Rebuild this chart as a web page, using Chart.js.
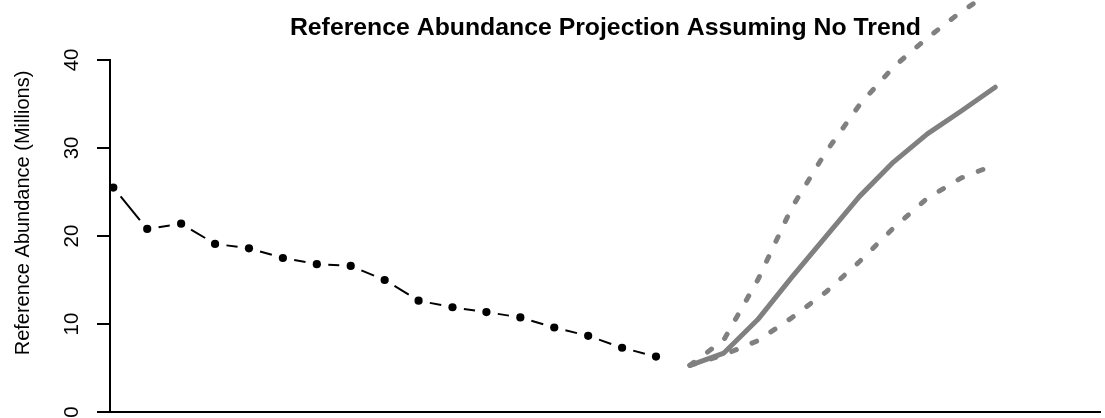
<!DOCTYPE html>
<html>
<head>
<meta charset="utf-8">
<script src="https://cdn.jsdelivr.net/npm/chart.js@4/dist/chart.umd.min.js"></script>
<style>
  html, body { margin: 0; padding: 0; background: #fff; }
  #wrap { width: 1105px; height: 418px; }
</style>
</head>
<body>
<div id="wrap"><canvas id="chart" width="1105" height="418"></canvas></div>
<script>
// Observed reference abundance (millions) by time step
const histSteps = [1, 2, 3, 4, 5, 6, 7, 8, 9, 10, 11, 12, 13, 14, 15, 16, 17];
const histAbundance = [25.5, 20.8, 21.4, 19.1, 18.6, 17.5, 16.8, 16.6, 15.0, 12.65, 11.9, 11.35, 10.75, 9.6, 8.65, 7.3, 6.3];

// Projected abundance assuming no trend: median and interval bounds
const projSteps = [18, 19, 20, 21, 22, 23, 24, 25, 26, 27];
const projMedian = [5.3, 6.7, 10.5, 15.3, 19.9, 24.5, 28.4, 31.6, 34.2, 36.9];
const projUpper  = [5.3, 8.2, 15.0, 23.2, 29.5, 34.9, 39.2, 42.5, 45.5, 48.0];
const projLower  = [5.3, 6.5, 8.1, 10.7, 13.6, 17.1, 20.9, 24.3, 26.6, 28.1];

// Y axis tick values
const yTicks = [0, 10, 20, 30, 40];

const FONT = '"Liberation Sans", Arial, Helvetica, sans-serif';
const GREY = '#808080';

const toPoints = (xs, ys) => xs.map((x, i) => ({ x: x, y: ys[i] }));

// Each connecting segment leaves a gap around both markers
const MARKER_GAP = 11.5;
const segLen = c => Math.hypot(c.p1.x - c.p0.x, c.p1.y - c.p0.y);

// Rotated y-axis caption, centred on the plot region
const yCaption = {
  id: 'yCaption',
  afterDraw(chart) {
    const ctx = chart.ctx;
    ctx.save();
    ctx.translate(23, 213);
    ctx.rotate(-Math.PI / 2);
    ctx.font = '20px ' + FONT;
    ctx.fillStyle = '#000';
    ctx.textAlign = 'center';
    ctx.textBaseline = 'middle';
    ctx.fillText('Reference Abundance (Millions)', 0, 0);
    ctx.restore();
  }
};

new Chart(document.getElementById('chart'), {
  type: 'line',
  data: {
    datasets: [
      {
        label: 'Observed',
        data: toPoints(histSteps, histAbundance),
        borderColor: '#000',
        backgroundColor: '#000',
        borderWidth: 2,
        pointRadius: 4.1,
        pointBorderWidth: 0,
        pointBackgroundColor: '#000',
        tension: 0,
        clip: false,
        segment: {
          borderDash: c => {
            const L = segLen(c);
            return [Math.max(L - 2 * MARKER_GAP, 0.01), 2 * MARKER_GAP];
          },
          borderDashOffset: c => segLen(c) - MARKER_GAP
        },
        order: 0
      },
      {
        label: 'Upper',
        data: toPoints(projSteps, projUpper),
        borderColor: GREY,
        borderWidth: 5,
        borderDash: [5, 17],
        borderCapStyle: 'round',
        borderJoinStyle: 'round',
        pointRadius: 0,
        tension: 0,
        clip: false,
        order: 2
      },
      {
        label: 'Lower',
        data: toPoints(projSteps, projLower),
        borderColor: GREY,
        borderWidth: 5,
        borderDash: [5, 17],
        borderCapStyle: 'round',
        borderJoinStyle: 'round',
        pointRadius: 0,
        tension: 0,
        clip: false,
        order: 2
      },
      {
        label: 'Median',
        data: toPoints(projSteps, projMedian),
        borderColor: GREY,
        borderWidth: 5,
        borderCapStyle: 'round',
        borderJoinStyle: 'round',
        pointRadius: 0,
        tension: 0,
        clip: false,
        order: 1
      }
    ]
  },
  options: {
    responsive: false,
    animation: false,
    events: [],
    layout: { padding: 0 },
    plugins: {
      legend: { display: false },
      tooltip: { enabled: false },
      title: {
        display: true,
        fullSize: false,
        text: 'Reference Abundance Projection Assuming No Trend',
        color: '#000',
        font: { family: FONT, size: 24.8, weight: 'bold', lineHeight: 1.2 },
        padding: { top: 13.2, bottom: 17.0 }
      }
    },
    scales: {
      x: {
        type: 'linear',
        min: 0.903,
        max: 30.116,
        ticks: { display: false },
        grid: { display: false, drawTicks: false },
        border: { display: true, color: '#000', width: 2 },
        afterFit(scale) {
          scale.height = 6;
          scale.paddingLeft = 0;
          scale.paddingRight = 0;
        }
      },
      y: {
        type: 'linear',
        min: 0,
        max: 40,
        afterBuildTicks(scale) {
          scale.ticks = yTicks.map(v => ({ value: v }));
        },
        ticks: {
          color: '#000',
          font: { family: FONT, size: 20.5 },
          minRotation: 90,
          maxRotation: 90,
          crossAlign: 'center',
          padding: 13,
          callback: v => String(v)
        },
        grid: {
          drawOnChartArea: false,
          drawTicks: true,
          tickLength: 13,
          color: '#000',
          lineWidth: 2
        },
        border: { display: true, color: '#000', width: 2 },
        afterFit(scale) {
          scale.width = 110;
          scale.paddingTop = 0;
          scale.paddingBottom = 0;
        }
      }
    }
  },
  plugins: [yCaption]
});
</script>
</body>
</html>
